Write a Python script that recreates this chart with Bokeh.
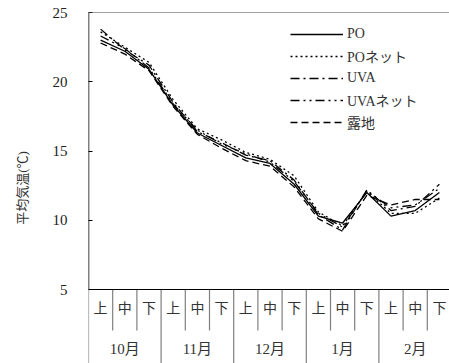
from bokeh.plotting import figure
from bokeh.models import ColumnDataSource, FixedTicker, Span, Legend, LegendItem
from bokeh.core.properties import value
from bokeh.embed import file_html
from bokeh.resources import INLINE

sub_labels = ["上", "中", "下"] * 5
months = ["10月", "11月", "12月", "1月", "2月"]

po      = [23.0, 22.2, 20.9, 18.3, 16.3, 15.4, 14.5, 14.1, 12.6, 10.3, 9.8, 12.0, 10.3, 10.7, 12.0]
po_net  = [23.6, 22.5, 21.4, 18.7, 16.6, 15.8, 14.9, 14.4, 13.2, 10.6, 9.6, 12.1, 10.5, 10.5, 11.6]
uva     = [23.8, 22.3, 21.2, 18.5, 16.4, 15.6, 14.7, 14.3, 12.9, 10.4, 9.3, 12.2, 10.7, 11.0, 12.6]
uva_net = [23.3, 22.4, 21.0, 18.4, 16.5, 15.5, 14.8, 14.2, 12.8, 10.5, 9.5, 12.1, 10.9, 11.1, 12.3]
roji    = [22.8, 22.0, 20.8, 18.2, 16.2, 15.2, 14.3, 13.9, 12.4, 10.1, 9.2, 11.8, 11.1, 11.5, 11.5]

series = [
    ("PO", po, "solid"),
    ("POネット", po_net, "2 3"),
    ("UVA", uva, "9 4 2 4"),
    ("UVAネット", uva_net, "9 4 2 4 2 4"),
    ("露地", roji, "7 4"),
]

FONT = "Liberation Serif, Noto Sans CJK JP"
NUMFONT = "Liberation Serif"
YMIN, YMAX = 5, 25
px_per_unit = 277 / 20.0
y_bottom = YMIN - 74 / px_per_unit

n = len(sub_labels)
x_end = n * (449 - 87.7) / 363.3

p = figure(width=449, height=363, output_backend="svg", toolbar_location=None,
           x_range=(0, x_end), y_range=(y_bottom, YMAX), x_axis_type=None,
           min_border_left=88, min_border_right=0, min_border_top=12, min_border_bottom=0)
p.outline_line_color = None
p.grid.visible = False
p.background_fill_color = "white"
p.border_fill_color = "white"

ax = p.yaxis[0]
ax.ticker = FixedTicker(ticks=[5, 10, 15, 20, 25])
ax.axis_line_color = None
ax.major_tick_in = 4
ax.major_tick_out = 0
ax.major_tick_line_color = "black"
ax.minor_tick_line_color = None
ax.major_label_text_font = NUMFONT
ax.major_label_text_font_size = "15px"
ax.major_label_text_color = "#222222"
ax.major_label_standoff = 21
ax.axis_label = "平均気温(℃)"
ax.axis_label_text_font = FONT
ax.axis_label_text_font_size = "13px"
ax.axis_label_text_font_style = "normal"
ax.axis_label_text_color = "#333333"
ax.axis_label_standoff = 20

# frame lines
p.add_layout(Span(location=YMAX, dimension="width", line_color="#444444", line_width=1))
p.add_layout(Span(location=YMIN, dimension="width", line_color="black", line_width=1.2))
p.segment(x0=[0], y0=[YMIN], x1=[0], y1=[YMAX], line_color="black", line_width=1.5)

# category separators
xs_month = [i for i in range(0, n + 1, 3)]
xs_inner = [i for i in range(n + 1) if i % 3 != 0]
p.segment(x0=xs_month, y0=[YMIN] * len(xs_month), x1=xs_month, y1=[y_bottom] * len(xs_month),
          line_color="#7f7f7f", line_width=1.2)
p.segment(x0=xs_inner, y0=[YMIN] * len(xs_inner), x1=xs_inner,
          y1=[YMIN - 41 / px_per_unit] * len(xs_inner), line_color="#7f7f7f", line_width=1.2)

xc = [i + 0.5 for i in range(n)]
p.text(x=xc, y=[YMIN - 19 / px_per_unit] * n, text=sub_labels, text_align="center",
       text_baseline="middle", text_font=value(FONT), text_font_size="14px", text_color="#333333")
p.text(x=[3 * k + 1.5 for k in range(len(months))], y=[YMIN - 59 / px_per_unit] * len(months),
       text=months, text_align="center", text_baseline="middle", text_font=value(FONT),
       text_font_size="15px", text_color="#333333")

items = []
for name, vals, dash in series:
    r = p.line(x=xc, y=vals, line_color="black", line_width=1.3, line_dash=dash)
    items.append(LegendItem(label=name, renderers=[r]))

legend = Legend(items=items, location=(202, 231), glyph_width=53, glyph_height=20,
                spacing=2, padding=0, margin=0, label_standoff=4,
                label_text_font=FONT, label_text_font_size="14px", label_text_color="#333333",
                border_line_color=None, background_fill_alpha=0)
p.add_layout(legend, "center")

open("out.html", "w").write(file_html(p, INLINE))
